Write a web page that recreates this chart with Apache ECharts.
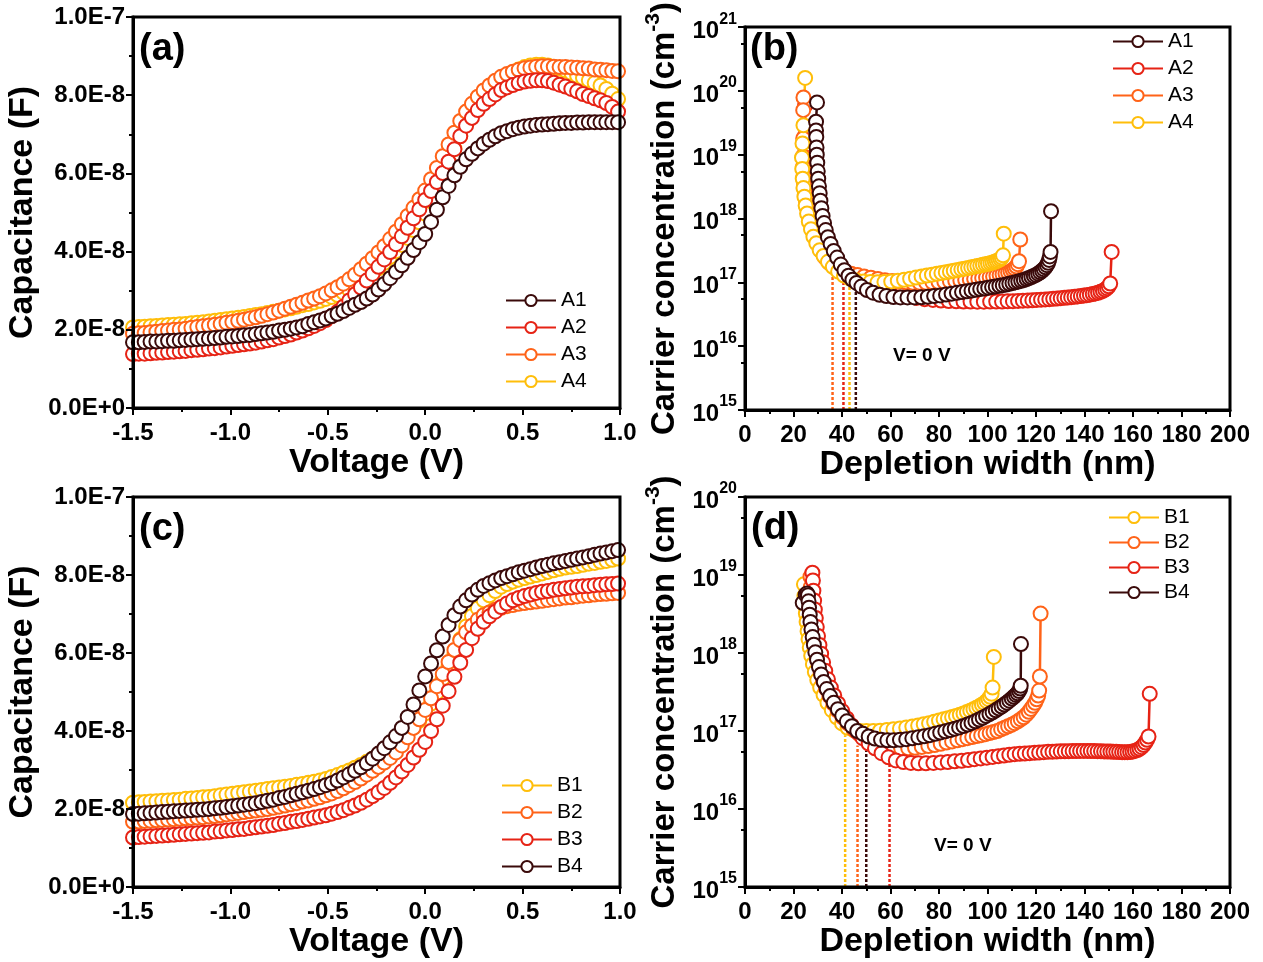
<!DOCTYPE html>
<html><head><meta charset="utf-8">
<script src="https://cdn.jsdelivr.net/npm/echarts@6/dist/echarts.min.js"></script>
<style>html,body{margin:0;padding:0;background:#fff}#c{width:1263px;height:962px}</style>
</head><body><div id="c"></div>
<script>
// ---------- DATA ----------
const voltage = [-1.50,-1.47,-1.44,-1.41,-1.38,-1.35,-1.32,-1.29,-1.26,-1.23,
-1.20,-1.17,-1.14,-1.11,-1.08,-1.05,-1.02,-0.99,-0.96,-0.93,
-0.90,-0.87,-0.84,-0.81,-0.78,-0.75,-0.72,-0.69,-0.66,-0.63,
-0.60,-0.57,-0.54,-0.51,-0.48,-0.45,-0.42,-0.39,-0.36,-0.33,
-0.30,-0.27,-0.24,-0.21,-0.18,-0.15,-0.12,-0.09,-0.06,-0.03,
0.00,0.03,0.06,0.09,0.12,0.15,0.18,0.21,0.24,0.27,
0.30,0.33,0.36,0.39,0.42,0.45,0.48,0.51,0.54,0.57,
0.60,0.63,0.66,0.69,0.72,0.75,0.78,0.81,0.84,0.87,
0.90,0.93,0.96,0.99];
// capacitance in units of 1e-8 F
const capA1 = [1.68,1.68,1.69,1.70,1.70,1.71,1.72,1.72,1.73,1.74,
1.75,1.76,1.77,1.78,1.79,1.80,1.82,1.83,1.84,1.86,
1.87,1.89,1.91,1.93,1.95,1.98,2.00,2.03,2.06,2.09,
2.15,2.19,2.24,2.29,2.35,2.41,2.48,2.56,2.64,2.71,
2.80,2.90,3.03,3.17,3.32,3.48,3.65,3.84,4.04,4.24,
4.45,4.76,5.07,5.39,5.68,5.95,6.17,6.36,6.50,6.64,
6.76,6.86,6.95,7.03,7.08,7.13,7.17,7.20,7.22,7.24,
7.25,7.26,7.27,7.28,7.29,7.29,7.30,7.30,7.31,7.31,
7.31,7.31,7.31,7.31];
const capA2 = [1.38,1.39,1.39,1.40,1.41,1.42,1.43,1.44,1.45,1.46,
1.48,1.49,1.50,1.52,1.53,1.55,1.57,1.59,1.61,1.63,
1.65,1.67,1.70,1.73,1.76,1.80,1.84,1.88,1.93,1.98,
2.04,2.10,2.17,2.25,2.35,2.46,2.59,2.75,2.91,3.08,
3.26,3.43,3.61,3.80,3.99,4.19,4.39,4.61,4.85,5.08,
5.32,5.55,5.78,6.01,6.30,6.62,6.95,7.22,7.42,7.62,
7.78,7.90,8.02,8.13,8.20,8.26,8.31,8.35,8.37,8.38,
8.38,8.36,8.32,8.27,8.22,8.16,8.10,8.03,7.98,7.92,
7.87,7.80,7.70,7.58];
const capA3 = [1.90,1.91,1.92,1.94,1.95,1.97,1.98,2.00,2.01,2.03,
2.05,2.07,2.09,2.11,2.13,2.15,2.18,2.20,2.23,2.26,
2.29,2.32,2.36,2.40,2.44,2.49,2.54,2.59,2.64,2.69,
2.75,2.80,2.86,2.93,3.01,3.09,3.18,3.29,3.41,3.55,
3.69,3.83,3.98,4.14,4.32,4.51,4.70,4.91,5.12,5.34,
5.56,5.85,6.14,6.44,6.74,7.04,7.34,7.58,7.78,7.96,
8.12,8.25,8.37,8.47,8.54,8.60,8.65,8.69,8.71,8.73,
8.74,8.74,8.73,8.72,8.72,8.71,8.70,8.69,8.68,8.66,
8.65,8.64,8.62,8.61];
const capA4 = [2.06,2.07,2.08,2.09,2.10,2.11,2.12,2.13,2.14,2.15,
2.17,2.18,2.19,2.21,2.23,2.25,2.27,2.29,2.31,2.33,
2.35,2.38,2.40,2.43,2.46,2.49,2.52,2.55,2.59,2.63,
2.66,2.70,2.74,2.79,2.84,2.89,2.95,3.02,3.10,3.20,
3.32,3.44,3.57,3.71,3.86,4.01,4.17,4.35,4.55,4.75,
4.97,5.30,5.63,5.96,6.30,6.63,6.96,7.27,7.52,7.75,
7.95,8.10,8.24,8.38,8.48,8.58,8.66,8.72,8.76,8.78,
8.78,8.76,8.72,8.68,8.63,8.57,8.50,8.44,8.38,8.31,
8.25,8.16,8.04,7.90];
const capB1 = [2.16,2.17,2.18,2.19,2.20,2.21,2.22,2.23,2.24,2.26,
2.27,2.28,2.30,2.31,2.33,2.35,2.37,2.39,2.41,2.43,
2.45,2.47,2.49,2.51,2.53,2.55,2.57,2.59,2.62,2.64,
2.67,2.70,2.73,2.77,2.82,2.87,2.93,2.99,3.06,3.13,
3.21,3.29,3.38,3.48,3.58,3.69,3.81,3.95,4.10,4.27,
4.45,4.70,4.98,5.34,5.68,5.99,6.35,6.68,6.95,7.15,
7.35,7.48,7.59,7.70,7.77,7.83,7.88,7.92,7.96,8.00,
8.04,8.08,8.12,8.16,8.19,8.21,8.23,8.26,8.29,8.31,
8.34,8.36,8.39,8.42];
const capB2 = [1.67,1.68,1.69,1.70,1.71,1.72,1.73,1.74,1.75,1.76,
1.77,1.78,1.79,1.81,1.82,1.84,1.86,1.88,1.90,1.92,
1.94,1.96,1.98,2.00,2.03,2.06,2.09,2.12,2.15,2.19,
2.22,2.26,2.30,2.35,2.40,2.46,2.53,2.61,2.69,2.78,
2.88,2.98,3.08,3.19,3.31,3.45,3.63,3.84,4.08,4.30,
4.54,4.84,5.15,5.46,5.77,6.08,6.33,6.53,6.70,6.85,
6.97,7.04,7.11,7.16,7.20,7.23,7.26,7.28,7.30,7.32,
7.34,7.36,7.38,7.40,7.42,7.43,7.45,7.47,7.48,7.50,
7.51,7.52,7.53,7.54];
const capB3 = [1.27,1.28,1.29,1.30,1.31,1.32,1.33,1.34,1.35,1.36,
1.37,1.38,1.39,1.40,1.42,1.43,1.45,1.46,1.48,1.49,
1.51,1.53,1.55,1.57,1.59,1.62,1.64,1.67,1.69,1.72,
1.75,1.78,1.81,1.84,1.88,1.92,1.97,2.03,2.09,2.16,
2.24,2.33,2.43,2.54,2.67,2.81,2.96,3.13,3.32,3.52,
3.72,4.00,4.30,4.65,5.02,5.39,5.75,6.08,6.38,6.62,
6.80,6.94,7.06,7.18,7.27,7.35,7.41,7.46,7.50,7.54,
7.57,7.59,7.62,7.64,7.66,7.68,7.70,7.71,7.72,7.74,
7.75,7.76,7.77,7.78];
const capB4 = [1.87,1.88,1.89,1.90,1.91,1.92,1.93,1.94,1.95,1.96,
1.97,1.98,1.99,2.00,2.02,2.03,2.05,2.07,2.09,2.11,
2.13,2.15,2.18,2.21,2.24,2.28,2.31,2.35,2.39,2.43,
2.47,2.51,2.56,2.61,2.66,2.73,2.81,2.89,2.98,3.07,
3.17,3.29,3.42,3.56,3.71,3.87,4.08,4.36,4.68,5.04,
5.40,5.73,6.07,6.42,6.72,6.97,7.19,7.35,7.50,7.62,
7.72,7.79,7.86,7.92,7.97,8.02,8.07,8.11,8.15,8.19,
8.23,8.26,8.30,8.33,8.36,8.39,8.42,8.45,8.48,8.52,
8.55,8.58,8.61,8.64];
const capTickLabels = ['0.0E+0','2.0E-8','4.0E-8','6.0E-8','8.0E-8','1.0E-7'];

// carrier concentration vs depletion width: [width nm, N cm^-3]
const nwA1 = [[29.7,6.6e19],[29.3,3.3e19],[29.3,2.4e19],[29.4,1.9e19],[29.5,1.3e19],[29.6,1.0e19],[29.8,7.5e18],[30.0,5.5e18],[30.2,4.2e18],[30.5,3.2e18],[30.8,2.5e18],[31.1,1.9e18],[31.5,1.45e18],[32.0,1.1e18],[32.6,8.5e17],[33.3,6.6e17],[34.2,5.1e17],[35.3,4.0e17],[36.6,3.1e17],[38.0,2.45e17],[39.5,1.9e17],[41.0,1.55e17],[42.7,1.27e17],[44.3,1.1e17],[46.0,9.8e16],[48.0,8.6e16],[50.3,7.6e16],[52.8,6.9e16],[55.5,6.4e16],[58.3,6.1e16],[61.2,5.9e16],[64.1,5.8e16],[67.0,5.8e16],[69.9,5.8e16],[72.7,5.85e16],[75.4,5.95e16],[78.0,6.1e16],[80.5,6.25e16],[82.9,6.45e16],[85.2,6.65e16],[87.4,6.85e16],[89.5,7.05e16],[91.5,7.25e16],[93.4,7.45e16],[95.2,7.65e16],[97.0,7.85e16],[98.7,8.05e16],[100.3,8.25e16],[101.9,8.45e16],[103.4,8.65e16],[104.9,8.85e16],[106.3,9.05e16],[107.7,9.25e16],[109.0,9.5e16],[110.3,9.75e16],[111.5,1.0e17],[112.7,1.03e17],[113.9,1.06e17],[115.0,1.09e17],[116.1,1.13e17],[117.1,1.17e17],[118.1,1.21e17],[119.1,1.26e17],[120.0,1.31e17],[120.9,1.37e17],[121.7,1.44e17],[122.5,1.52e17],[123.2,1.61e17],[123.9,1.72e17],[124.5,1.86e17],[125.0,2.03e17],[125.4,2.25e17],[125.7,2.55e17],[126.0,3.0e17],[126.2,1.3e18]];
const nwA2 = [[24.8,5.9e19],[24.8,2.0e19],[24.9,1.3e19],[25.0,9.0e18],[25.2,6.5e18],[25.4,4.8e18],[25.7,3.6e18],[26.0,2.7e18],[26.4,2.0e18],[26.9,1.5e18],[27.5,1.15e18],[28.2,8.8e17],[29.0,6.8e17],[30.0,5.3e17],[31.1,4.2e17],[32.4,3.4e17],[33.9,2.8e17],[35.5,2.35e17],[37.3,2.0e17],[39.2,1.72e17],[41.3,1.5e17],[43.6,1.3e17],[46.0,1.15e17],[48.6,1.02e17],[51.4,9.2e16],[54.3,8.3e16],[57.4,7.5e16],[60.6,6.9e16],[63.9,6.4e16],[67.3,6.0e16],[70.7,5.7e16],[74.1,5.45e16],[77.5,5.3e16],[80.8,5.2e16],[84.0,5.1e16],[87.1,5.05e16],[90.1,5.0e16],[93.0,5.0e16],[95.8,4.98e16],[98.5,4.98e16],[101.1,5.0e16],[103.6,5.0e16],[106.0,5.02e16],[108.3,5.05e16],[110.5,5.08e16],[112.6,5.12e16],[114.6,5.16e16],[116.6,5.2e16],[118.5,5.25e16],[120.3,5.3e16],[122.1,5.35e16],[123.8,5.4e16],[125.5,5.46e16],[127.1,5.52e16],[128.7,5.58e16],[130.2,5.65e16],[131.7,5.72e16],[133.1,5.79e16],[134.5,5.86e16],[135.9,5.94e16],[137.2,6.02e16],[138.5,6.1e16],[139.8,6.2e16],[141.0,6.3e16],[142.2,6.42e16],[143.4,6.55e16],[144.5,6.7e16],[145.6,6.88e16],[146.6,7.1e16],[147.6,7.35e16],[148.5,7.7e16],[149.3,8.1e16],[150.0,8.7e16],[150.6,9.6e16],[151.2,3.0e17]];
const nwA3 = [[24.1,7.9e19],[24.0,5.0e19],[24.0,1.8e19],[23.9,9.5e18],[24.0,6.5e18],[24.2,4.7e18],[24.4,3.5e18],[24.7,2.6e18],[25.1,1.95e18],[25.6,1.45e18],[26.2,1.1e18],[26.9,8.5e17],[27.8,6.6e17],[28.8,5.2e17],[30.0,4.0e17],[31.4,3.1e17],[33.0,2.45e17],[34.8,2.0e17],[36.8,1.72e17],[39.0,1.55e17],[41.3,1.45e17],[43.8,1.37e17],[46.4,1.3e17],[49.1,1.24e17],[51.9,1.18e17],[54.8,1.13e17],[57.7,1.08e17],[60.6,1.05e17],[63.5,1.02e17],[66.4,1.0e17],[69.2,0.99e17],[72.0,0.99e17],[74.7,0.99e17],[77.3,1.0e17],[79.8,1.01e17],[82.2,1.02e17],[84.5,1.04e17],[86.7,1.05e17],[88.8,1.07e17],[90.8,1.09e17],[92.7,1.11e17],[94.5,1.13e17],[96.2,1.15e17],[97.8,1.17e17],[99.4,1.19e17],[100.9,1.21e17],[102.3,1.24e17],[103.7,1.27e17],[105.0,1.3e17],[106.2,1.34e17],[107.4,1.38e17],[108.5,1.43e17],[109.5,1.49e17],[110.4,1.56e17],[111.2,1.65e17],[111.9,1.77e17],[112.5,1.93e17],[113.0,2.15e17],[113.5,4.7e17]];
const nwA4 = [[24.8,1.6e20],[24.1,2.9e19],[23.7,1.5e19],[23.5,9.0e18],[23.6,6.0e18],[23.8,4.2e18],[24.1,3.0e18],[24.5,2.2e18],[25.0,1.6e18],[25.6,1.2e18],[26.3,9.0e17],[27.2,6.8e17],[28.2,5.2e17],[29.4,4.1e17],[30.8,3.2e17],[32.4,2.6e17],[34.2,2.1e17],[36.2,1.75e17],[38.4,1.48e17],[40.8,1.28e17],[43.3,1.15e17],[46.0,1.07e17],[48.8,1.03e17],[51.7,1.01e17],[54.6,1.0e17],[57.5,1.01e17],[60.3,1.03e17],[63.0,1.06e17],[65.6,1.1e17],[68.1,1.14e17],[70.5,1.19e17],[72.8,1.24e17],[75.0,1.28e17],[77.1,1.32e17],[79.1,1.36e17],[81.0,1.4e17],[82.8,1.44e17],[84.5,1.48e17],[86.1,1.52e17],[87.7,1.56e17],[89.2,1.6e17],[90.6,1.64e17],[92.0,1.68e17],[93.3,1.72e17],[94.6,1.76e17],[95.8,1.8e17],[97.0,1.84e17],[98.1,1.88e17],[99.2,1.92e17],[100.2,1.96e17],[101.2,2.0e17],[102.1,2.05e17],[103.0,2.1e17],[103.8,2.16e17],[104.6,2.23e17],[105.3,2.32e17],[105.9,2.45e17],[106.4,2.65e17],[106.7,5.8e17]];
const nwB1 = [[24.3,7.6e18],[24.5,5.4e18],[24.8,4.0e18],[25.1,3.2e18],[25.4,2.5e18],[25.8,1.9e18],[26.2,1.5e18],[26.7,1.18e18],[27.3,9.2e17],[28.0,7.2e17],[28.8,5.7e17],[29.8,4.5e17],[31.0,3.6e17],[32.4,2.9e17],[34.0,2.3e17],[35.8,1.85e17],[37.8,1.5e17],[40.0,1.25e17],[42.3,1.1e17],[44.8,1.03e17],[47.4,1.0e17],[50.1,1.0e17],[52.9,1.0e17],[55.7,1.01e17],[58.5,1.03e17],[61.2,1.05e17],[63.9,1.08e17],[66.5,1.11e17],[69.0,1.14e17],[71.4,1.18e17],[73.7,1.22e17],[75.9,1.26e17],[78.0,1.31e17],[80.0,1.36e17],[81.9,1.41e17],[83.7,1.46e17],[85.4,1.51e17],[87.0,1.56e17],[88.6,1.62e17],[90.1,1.68e17],[91.5,1.75e17],[92.9,1.82e17],[94.2,1.9e17],[95.4,1.98e17],[96.6,2.07e17],[97.7,2.17e17],[98.7,2.28e17],[99.6,2.41e17],[100.4,2.56e17],[101.1,2.75e17],[101.7,3.0e17],[102.1,3.6e17],[102.6,8.9e17]];
const nwB2 = [[27.0,9.5e18],[27.1,7.0e18],[27.3,5.2e18],[27.5,3.9e18],[27.8,2.9e18],[28.1,2.2e18],[28.5,1.65e18],[29.0,1.25e18],[29.6,9.5e17],[30.3,7.3e17],[31.2,5.6e17],[32.2,4.4e17],[33.4,3.5e17],[34.8,2.8e17],[36.4,2.25e17],[38.2,1.82e17],[40.2,1.5e17],[42.4,1.25e17],[44.8,1.05e17],[47.3,9.0e16],[50.0,7.8e16],[52.8,7.0e16],[55.7,6.5e16],[58.6,6.2e16],[61.5,6.0e16],[64.4,5.95e16],[67.3,6.0e16],[70.1,6.1e16],[72.9,6.25e16],[75.6,6.4e16],[78.2,6.6e16],[80.7,6.85e16],[83.1,7.1e16],[85.4,7.35e16],[87.6,7.6e16],[89.7,7.85e16],[91.7,8.1e16],[93.7,8.35e16],[95.6,8.6e16],[97.4,8.85e16],[99.2,9.1e16],[100.9,9.4e16],[102.5,9.7e16],[104.1,1.0e17],[105.6,1.05e17],[107.1,1.1e17],[108.5,1.15e17],[109.9,1.2e17],[111.2,1.26e17],[112.5,1.33e17],[113.7,1.41e17],[114.9,1.5e17],[116.0,1.62e17],[117.0,1.76e17],[117.9,1.92e17],[118.8,2.1e17],[119.6,2.3e17],[120.3,2.55e17],[120.9,2.85e17],[121.3,3.3e17],[121.6,5.0e17],[121.9,3.2e18]];
const nwB3 = [[27.8,1.07e19],[28.0,8.5e18],[28.2,6.3e18],[28.5,4.7e18],[28.8,3.6e18],[29.2,2.8e18],[29.6,2.15e18],[30.1,1.65e18],[30.7,1.27e18],[31.4,9.8e17],[32.2,7.6e17],[33.1,5.9e17],[34.2,4.6e17],[35.4,3.6e17],[36.8,2.85e17],[38.4,2.25e17],[40.1,1.8e17],[42.0,1.45e17],[44.0,1.18e17],[46.2,9.7e16],[48.5,8.1e16],[51.0,6.9e16],[53.6,6.0e16],[56.3,5.2e16],[59.2,4.6e16],[62.2,4.2e16],[65.3,4.0e16],[68.4,3.9e16],[71.5,3.85e16],[74.6,3.85e16],[77.7,3.9e16],[80.7,3.95e16],[83.6,4.0e16],[86.5,4.08e16],[89.3,4.15e16],[92.0,4.25e16],[94.6,4.35e16],[97.2,4.45e16],[99.7,4.55e16],[102.1,4.65e16],[104.5,4.75e16],[106.8,4.85e16],[109.0,4.95e16],[111.2,5.05e16],[113.3,5.1e16],[115.4,5.15e16],[117.4,5.2e16],[119.4,5.25e16],[121.3,5.3e16],[123.2,5.35e16],[125.0,5.4e16],[126.8,5.43e16],[128.5,5.46e16],[130.2,5.49e16],[131.9,5.5e16],[133.5,5.52e16],[135.1,5.53e16],[136.7,5.54e16],[138.2,5.55e16],[139.7,5.55e16],[141.2,5.55e16],[142.6,5.54e16],[144.0,5.53e16],[145.4,5.52e16],[146.8,5.5e16],[148.1,5.48e16],[149.4,5.46e16],[150.7,5.44e16],[151.9,5.42e16],[153.1,5.4e16],[154.3,5.38e16],[155.5,5.36e16],[156.6,5.35e16],[157.7,5.35e16],[158.8,5.38e16],[159.8,5.45e16],[160.8,5.55e16],[161.8,5.7e16],[162.7,5.9e16],[163.6,6.2e16],[164.4,6.6e16],[165.1,7.1e16],[165.8,7.7e16],[166.4,8.5e16],[166.9,3.0e17]];
const nwB4 = [[23.8,4.4e18],[25.0,5.6e18],[25.6,5.8e18],[26.0,5.5e18],[26.2,4.6e18],[26.4,3.8e18],[26.7,3.1e18],[27.0,2.5e18],[27.4,2.0e18],[27.9,1.6e18],[28.4,1.28e18],[29.0,1.02e18],[29.7,8.2e17],[30.5,6.6e17],[31.4,5.3e17],[32.5,4.25e17],[33.7,3.45e17],[35.1,2.8e17],[36.6,2.3e17],[38.3,1.9e17],[40.1,1.58e17],[42.0,1.33e17],[44.1,1.15e17],[46.3,1.0e17],[48.6,9.2e16],[51.0,8.5e16],[53.5,8.0e16],[56.1,7.7e16],[58.7,7.6e16],[61.3,7.6e16],[63.9,7.7e16],[66.5,7.85e16],[69.0,8.05e16],[71.5,8.3e16],[73.9,8.55e16],[76.2,8.85e16],[78.4,9.2e16],[80.5,9.55e16],[82.6,9.9e16],[84.6,1.03e17],[86.5,1.07e17],[88.3,1.11e17],[90.1,1.16e17],[91.8,1.21e17],[93.4,1.27e17],[95.0,1.33e17],[96.5,1.4e17],[98.0,1.48e17],[99.4,1.56e17],[100.8,1.65e17],[102.1,1.74e17],[103.4,1.84e17],[104.6,1.95e17],[105.8,2.06e17],[106.9,2.18e17],[108.0,2.31e17],[109.0,2.45e17],[110.0,2.6e17],[110.9,2.75e17],[111.7,2.9e17],[112.4,3.05e17],[113.0,3.25e17],[113.5,3.5e17],[113.7,3.8e17],[113.8,1.3e18]];
// V = 0 V markers: [width, N at curve]
const markB = {A3:[36.1,1.3e17], A2:[40.6,1.45e17], A4:[43.1,1.1e17], A1:[45.7,9.0e16]};
const markD = {B1:[41.3,8.8e16], B2:[46.4,6.5e16], B4:[50.0,5.6e16], B3:[59.6,4.4e16]};

// ---------- STYLE ----------
const COL = {dark:'#3a0a0a', red:'#e62315', orange:'#ff6318', yellow:'#ffbe0a'};
const colA = {A1:COL.dark, A2:COL.red, A3:COL.orange, A4:COL.yellow};
const colB = {B1:COL.yellow, B2:COL.orange, B3:COL.red, B4:COL.dark};
const FF = '"Liberation Sans", Arial, sans-serif';

function pts(name, color, data, gi){
  return {name, type:'line', xAxisIndex:gi, yAxisIndex:gi, data,
    symbol:'emptyCircle', symbolSize:14, showAllSymbol:true,
    itemStyle:{color, borderColor:color, borderWidth:2},
    lineStyle:{color, width:2.5}, animation:false, z:3};
}
function cv(name, color, ys, gi){ return pts(name, color, voltage.map((v,i)=>[v, ys[i]]), gi); }
function dotted(color, m, gi){
  return {type:'line', xAxisIndex:gi, yAxisIndex:gi, data:[[m[0],1e15],[m[0],m[1]]],
    symbol:'none', lineStyle:{color, width:2.5, type:[3,2]}, silent:true, animation:false, z:2};
}
const grids = [
  {left:133, top:17, width:487, height:391},
  {left:745, top:21, width:485, height:389},
  {left:133, top:497, width:487, height:390},
  {left:745, top:497, width:485, height:390}
].map(g=>Object.assign(g,{show:true, borderColor:'#000', borderWidth:3, z:10}));

const tickStyle = {show:true, inside:false, length:7, lineStyle:{color:'#000', width:2}};
const minorStyle = {show:true, splitNumber:2, length:4, lineStyle:{color:'#000', width:2}};
const axisLineStyle = {show:true, onZero:false, lineStyle:{color:'#000', width:3}};
const lblStyle = {color:'#000', fontSize:24, fontWeight:'bold', fontFamily:FF};
const nameStyle = {color:'#000', fontSize:34, fontWeight:'bold', fontFamily:FF};

function xV(gi){ return {gridIndex:gi, type:'value', min:-1.5, max:1.0, interval:0.5, z:10,
  name:'Voltage (V)', nameLocation:'middle', nameGap:37, nameTextStyle:nameStyle,
  axisLine:axisLineStyle, axisTick:tickStyle, minorTick:minorStyle, splitLine:{show:false},
  axisLabel:Object.assign({margin:13, showMinLabel:true, showMaxLabel:true, formatter:v=>v.toFixed(1)}, lblStyle)}; }
function yC(gi){ return {gridIndex:gi, type:'value', min:0, max:10, interval:2, z:10,
  name:'Capacitance (F)', nameLocation:'middle', nameGap:93, nameTextStyle:nameStyle,
  axisLine:axisLineStyle, axisTick:tickStyle, minorTick:minorStyle, splitLine:{show:false},
  axisLabel:Object.assign({margin:8, formatter:v=>capTickLabels[Math.round(v/2)]}, lblStyle)}; }
function xW(gi){ return {gridIndex:gi, type:'value', min:0, max:200, interval:20, z:10,
  name:'Depletion width (nm)', nameLocation:'middle', nameGap:37, nameTextStyle:nameStyle,
  axisLine:axisLineStyle, axisTick:tickStyle, minorTick:minorStyle, splitLine:{show:false},
  axisLabel:Object.assign({margin:13, showMinLabel:true, showMaxLabel:true}, lblStyle)}; }
function yN(gi, max){ return {gridIndex:gi, type:'log', logBase:10, min:1e15, max:max, z:10,
  name:'{n|Carrier concentration (cm}{s|-3}{n|)}', nameLocation:'middle', nameGap:64,
  nameTextStyle:{rich:{n:{fontSize:33, fontWeight:'bold', fontFamily:FF, color:'#000', verticalAlign:'bottom', lineHeight:38},
                       s:{fontSize:21, fontWeight:'bold', fontFamily:FF, color:'#000', verticalAlign:'top', lineHeight:38}}},
  axisLine:axisLineStyle, axisTick:tickStyle, minorTick:minorStyle, splitLine:{show:false},
  axisLabel:{margin:8, formatter:v=>'{b|10}{s|'+Math.round(Math.log10(v))+'}',
    rich:{b:{fontSize:24, fontWeight:'bold', fontFamily:FF, color:'#000', verticalAlign:'bottom', lineHeight:32},
          s:{fontSize:16, fontWeight:'bold', fontFamily:FF, color:'#000', verticalAlign:'top', lineHeight:32}}}}; }

function legend(names, left, top, gap){
  return {data:names, orient:'vertical', left, top, itemGap:gap, itemWidth:50, itemHeight:14,
    textStyle:{color:'#000', fontSize:21, fontFamily:FF}, selectedMode:false};
}
function txt(t, left, top, size){
  return {type:'text', left, top, z:20, style:{text:t, fontSize:size, fontWeight:'bold', fontFamily:FF, fill:'#000'}};
}

const series = [
  cv('A4', colA.A4, capA4, 0), cv('A3', colA.A3, capA3, 0), cv('A2', colA.A2, capA2, 0), cv('A1', colA.A1, capA1, 0),
  dotted(colA.A3, markB.A3, 1), dotted(colA.A2, markB.A2, 1), dotted(colA.A4, markB.A4, 1), dotted(colA.A1, markB.A1, 1),
  pts('A2', colA.A2, nwA2, 1), pts('A3', colA.A3, nwA3, 1), pts('A4', colA.A4, nwA4, 1), pts('A1', colA.A1, nwA1, 1),
  cv('B1', colB.B1, capB1, 2), cv('B2', colB.B2, capB2, 2), cv('B3', colB.B3, capB3, 2), cv('B4', colB.B4, capB4, 2),
  dotted(colB.B1, markD.B1, 3), dotted(colB.B2, markD.B2, 3), dotted(colB.B4, markD.B4, 3), dotted(colB.B3, markD.B3, 3),
  pts('B1', colB.B1, nwB1, 3), pts('B2', colB.B2, nwB2, 3), pts('B3', colB.B3, nwB3, 3), pts('B4', colB.B4, nwB4, 3)
];

const chart = echarts.init(document.getElementById('c'), null, {renderer:'canvas'});
chart.setOption({
  backgroundColor:'#fff', animation:false,
  grid:grids,
  xAxis:[xV(0), xW(1), xV(2), xW(3)],
  yAxis:[yC(0), yN(1,1e21), yC(2), yN(3,1e20)],
  legend:[
    legend(['A1','A2','A3','A4'], 500, 285, 6),
    legend(['A1','A2','A3','A4'], 1107, 26, 6),
    legend(['B1','B2','B3','B4'], 496, 770, 6),
    legend(['B1','B2','B3','B4'], 1103, 502, 4)
  ],
  graphic:[
    txt('(a)', 139, 31, 38), txt('(b)', 750, 31, 38), txt('(c)', 139, 511, 38), txt('(d)', 751, 510, 38),
    txt('V= 0 V', 893, 346, 19), txt('V= 0 V', 934, 836, 19)
  ],
  series
});
</script></body></html>
